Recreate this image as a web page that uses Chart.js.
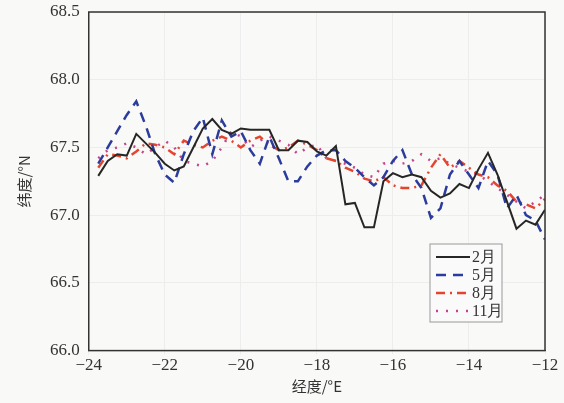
<!DOCTYPE html>
<html>
<head>
<meta charset="utf-8">
<script src="https://cdn.jsdelivr.net/npm/chart.js@4.4.0/dist/chart.umd.min.js"></script>
<style>
  html, body { margin: 0; padding: 0; background: #f9f9f7; }
  #wrap { width: 564px; height: 403px; position: relative; }
</style>
</head>
<body>
<div id="wrap"><canvas id="myChart"></canvas></div>
<script>
// longitude, step 0.25 deg
const lon = [];
for (let i = 0; i < 48; i++) lon.push(-23.75 + 0.25 * i);

const feb = [67.29, 67.40, 67.45, 67.44, 67.60, 67.53, 67.46, 67.38, 67.33, 67.36, 67.50, 67.64,
  67.71, 67.63, 67.60, 67.64, 67.63, 67.63, 67.63, 67.48, 67.48, 67.55, 67.54, 67.47,
  67.44, 67.51, 67.08, 67.09, 66.91, 66.91, 67.25, 67.31, 67.28, 67.30, 67.28, 67.18,
  67.13, 67.16, 67.23, 67.20, 67.34, 67.46, 67.30, 67.10, 66.90, 66.96, 66.93, 67.04];
const may = [67.38, 67.50, 67.62, 67.74, 67.84, 67.66, 67.45, 67.30, 67.24, 67.45, 67.62, 67.72,
  67.45, 67.70, 67.58, 67.62, 67.48, 67.38, 67.58, 67.42, 67.25, 67.25, 67.36, 67.44,
  67.48, 67.48, 67.40, 67.35, 67.28, 67.22, 67.28, 67.40, 67.48, 67.30, 67.20, 66.98,
  67.05, 67.30, 67.40, 67.30, 67.20, 67.40, 67.30, 67.05, 67.15, 67.00, 66.96, 66.82];
const aug = [67.35, 67.45, 67.44, 67.42, 67.47, 67.53, 67.52, 67.50, 67.45, 67.55, 67.52, 67.50,
  67.55, 67.58, 67.55, 67.50, 67.55, 67.58, 67.52, 67.48, 67.50, 67.55, 67.52, 67.48,
  67.42, 67.40, 67.35, 67.32, 67.27, 67.25, 67.28, 67.22, 67.20, 67.20, 67.22, 67.35,
  67.45, 67.35, 67.40, 67.35, 67.30, 67.28, 67.22, 67.18, 67.10, 67.08, 67.05, 67.12];
const nov = [67.42, 67.48, 67.50, 67.53, 67.50, 67.45, 67.50, 67.55, 67.50, 67.40, 67.38, 67.36,
  67.40, 67.50, 67.62, 67.58, 67.50, 67.55, 67.58, 67.55, 67.52, 67.45, 67.50, 67.52,
  67.42, 67.40, 67.38, 67.35, 67.30, 67.28, 67.38, 67.40, 67.38, 67.40, 67.45, 67.40,
  67.42, 67.38, 67.35, 67.32, 67.30, 67.25, 67.20, 67.15, 67.10, 67.05, 67.10, 67.15];

const seriesNames = ["2月", "5月", "8月", "11月"];

function pts(arr) {
  return arr.map((v, i) => ({ x: lon[i], y: v }));
}

const serif = "'Liberation Serif', 'DejaVu Serif', serif";

// frame + legend inside the plot
const boxPlugin = {
  id: "boxPlugin",
  afterDraw(chart) {
    const c = chart.ctx, a = chart.chartArea;
    c.save();
    c.strokeStyle = "#333";
    c.lineWidth = 1.5;
    c.strokeRect(a.left, a.top, a.right - a.left, a.bottom - a.top);

    // legend box
    const lx = 430, ly = 244, lw = 72, lh = 78;
    c.fillStyle = "#fafafa";
    c.fillRect(lx, ly, lw, lh);
    c.strokeStyle = "#999";
    c.lineWidth = 1;
    c.strokeRect(lx, ly, lw, lh);
    c.font = "16px " + serif;
    c.textBaseline = "middle";
    chart.data.datasets.forEach((ds, i) => {
      const y = ly + 13 + i * 18;
      c.strokeStyle = ds.borderColor;
      c.lineWidth = ds.borderWidth;
      c.setLineDash(ds.borderDash || []);
      c.beginPath();
      c.moveTo(lx + 6, y);
      c.lineTo(lx + 40, y);
      c.stroke();
      c.setLineDash([]);
      c.fillStyle = "#333";
      c.fillText(ds.label, lx + 42, y + 1);
    });
    c.restore();
  }
};

const ctx = document.getElementById("myChart");
const myChart = new Chart(ctx, {
  type: "line",
  data: {
    datasets: [
      { label: seriesNames[0], data: pts(feb), borderColor: "#262626", borderWidth: 2, pointRadius: 0, tension: 0 },
      { label: seriesNames[1], data: pts(may), borderColor: "#2b3c9c", borderWidth: 2.5, borderDash: [10, 7], pointRadius: 0, tension: 0 },
      { label: seriesNames[2], data: pts(aug), borderColor: "#e5452f", borderWidth: 2.5, borderDash: [9, 5, 2, 5], pointRadius: 0, tension: 0 },
      { label: seriesNames[3], data: pts(nov), borderColor: "#c4458e", borderWidth: 2.5, borderDash: [2, 8], pointRadius: 0, tension: 0 },
    ],
  },
  options: {
    responsive: true,
    maintainAspectRatio: false,
    animation: false,
    layout: { padding: { top: 12, right: 19, left: 15, bottom: 6 } },
    plugins: {
      legend: false,
      tooltip: { enabled: false },
    },
    scales: {
      x: {
        type: "linear",
        min: -24,
        max: -12,
        ticks: {
          stepSize: 2,
          color: "#333",
          font: { family: serif, size: 17 },
          padding: 1,
          callback: (v) => String(v).replace("-", "\u2212"),
        },
        grid: { color: "#ededed", tickLength: 4 },
        border: { color: "#333" },
        title: {
          display: true,
          text: "经度/°E",
          color: "#333",
          font: { family: "'Noto Sans CJK SC', serif", size: 15 },
          padding: { top: 0, bottom: 2 },
        },
      },
      y: {
        min: 66,
        max: 68.5,
        afterFit: (scale) => { scale.paddingTop = 0; },
        ticks: {
          stepSize: 0.5,
          color: "#333",
          font: { family: serif, size: 17 },
          padding: 9,
          callback: (v) => v.toFixed(1),
        },
        grid: { color: "#ededed", tickLength: 0 },
        border: { color: "#333" },
        title: {
          display: true,
          text: "纬度/°N",
          color: "#333",
          font: { family: "'Noto Sans CJK SC', serif", size: 15 },
          padding: { top: 0, bottom: 8 },
        },
      },
    },
  },
  plugins: [boxPlugin],
});
</script>
</body>
</html>
